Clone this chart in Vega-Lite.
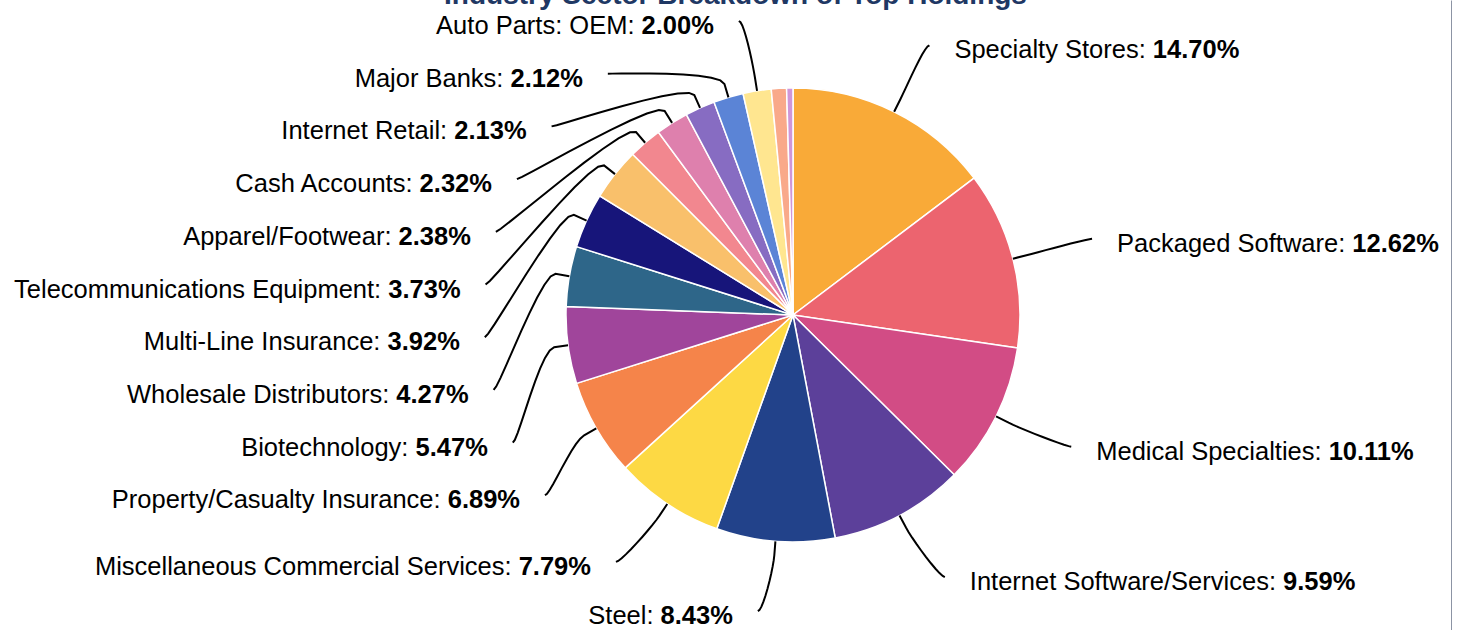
{
  "$schema": "https://vega.github.io/schema/vega-lite/v6.json",
  "width": 1318,
  "height": 630,
  "autosize": "none",
  "padding": {"left": 134, "top": 0, "right": 0, "bottom": 0},
  "data": {"values": [
    {"name": "Specialty Stores", "value": 14.70},
    {"name": "Packaged Software", "value": 12.62},
    {"name": "Medical Specialties", "value": 10.11},
    {"name": "Internet Software/Services", "value": 9.59},
    {"name": "Steel", "value": 8.43},
    {"name": "Miscellaneous Commercial Services", "value": 7.79},
    {"name": "Property/Casualty Insurance", "value": 6.89},
    {"name": "Biotechnology", "value": 5.47},
    {"name": "Wholesale Distributors", "value": 4.27},
    {"name": "Multi-Line Insurance", "value": 3.92},
    {"name": "Telecommunications Equipment", "value": 3.73},
    {"name": "Apparel/Footwear", "value": 2.38},
    {"name": "Cash Accounts", "value": 2.32},
    {"name": "Internet Retail", "value": 2.13},
    {"name": "Major Banks", "value": 2.12},
    {"name": "Auto Parts: OEM", "value": 2.00},
    {"name": "Other", "value": 1.08},
    {"name": "Unclassified", "value": 0.45}
  ]},
  "transform": [
    {"joinaggregate": [{"op": "sum", "field": "value", "as": "total"}]},
    {"window": [{"op": "sum", "field": "value", "as": "cum"}], "sort": [{"field": "value", "order": "descending"}], "frame": [null, 0]},
    {"calculate": "2*PI*(datum.cum - datum.value/2)/datum.total", "as": "ang"},
    {"calculate": "sin(datum.ang)", "as": "ux"},
    {"calculate": "-cos(datum.ang)", "as": "uy"},
    {"calculate": "datum.ang < PI ? 'R' : 'L'", "as": "side"},
    {"calculate": "datum.value >= 1.5 ? 1 : 0", "as": "lab"},
    {"window": [{"op": "row_number", "as": "rk"}], "groupby": ["side", "lab"], "sort": [{"field": "ang", "order": "descending"}]},
    {"calculate": "datum.uy*299 - 2", "as": "ny"},
    {"calculate": "datum.side === 'L' ? max(datum.ny, -294 + (datum.rk-1)*52.7) : datum.ny", "as": "ly"},
    {"calculate": "(sqrt(max(0, 297*297 - datum.ly*datum.ly)) + 12) * (datum.side === 'L' ? -1 : 1)", "as": "lx"},
    {"calculate": "datum.lx + (datum.side === 'L' ? -25 : 25)", "as": "tx"},
    {"calculate": "format(datum.value, '.2f') + '%'", "as": "vs"},
    {"calculate": "((length(datum.vs)-2)*0.556 + 1.167)*25.5", "as": "vw"},
    {"calculate": "datum.name + ':'", "as": "nm"},
    {"calculate": "0.556*length(datum.nm) - 0.334*(length(split(datum.nm,'i'))+length(split(datum.nm,'j'))+length(split(datum.nm,'l'))-3) - 0.278*(length(split(datum.nm,'f'))+length(split(datum.nm,'t'))+length(split(datum.nm,'I'))+length(split(datum.nm,' '))+length(split(datum.nm,':'))+length(split(datum.nm,'/'))+length(split(datum.nm,'.'))+length(split(datum.nm,','))-8) - 0.223*(length(split(datum.nm,'r'))+length(split(datum.nm,'-'))+length(split(datum.nm,'('))+length(split(datum.nm,')'))-4) - 0.056*(length(split(datum.nm,'c'))+length(split(datum.nm,'k'))+length(split(datum.nm,'s'))+length(split(datum.nm,'v'))+length(split(datum.nm,'x'))+length(split(datum.nm,'y'))+length(split(datum.nm,'z'))+length(split(datum.nm,'J'))-8) + 0.055*(length(split(datum.nm,'F'))+length(split(datum.nm,'T'))+length(split(datum.nm,'Z'))-3) + 0.111*(length(split(datum.nm,'A'))+length(split(datum.nm,'B'))+length(split(datum.nm,'E'))+length(split(datum.nm,'K'))+length(split(datum.nm,'P'))+length(split(datum.nm,'S'))+length(split(datum.nm,'V'))+length(split(datum.nm,'X'))+length(split(datum.nm,'Y'))-9) + 0.166*(length(split(datum.nm,'C'))+length(split(datum.nm,'D'))+length(split(datum.nm,'H'))+length(split(datum.nm,'N'))+length(split(datum.nm,'R'))+length(split(datum.nm,'U'))+length(split(datum.nm,'w'))-7) + 0.222*(length(split(datum.nm,'G'))+length(split(datum.nm,'O'))+length(split(datum.nm,'Q'))-3) + 0.277*(length(split(datum.nm,'M'))+length(split(datum.nm,'m'))-2) + 0.388*(length(split(datum.nm,'W'))-1)", "as": "nem"},
    {"calculate": "datum.side === 'L' ? datum.tx - datum.vw - 0.278*25.5 : datum.tx", "as": "nameX"},
    {"calculate": "datum.side === 'L' ? datum.tx - datum.vw : datum.tx + (datum.nem + 0.278)*25.5", "as": "valX"}
  ],
  "layer": [
    {
      "mark": {"type": "arc", "outerRadius": 227, "stroke": "#ffffff", "strokeWidth": 1.5},
      "encoding": {
        "theta": {"field": "value", "type": "quantitative", "stack": true},
        "order": {"field": "value", "type": "quantitative", "sort": "descending"},
        "color": {"field": "name", "type": "nominal", "legend": null, "scale": {
          "domain": ["Specialty Stores", "Packaged Software", "Medical Specialties", "Internet Software/Services", "Steel", "Miscellaneous Commercial Services", "Property/Casualty Insurance", "Biotechnology", "Wholesale Distributors", "Multi-Line Insurance", "Telecommunications Equipment", "Apparel/Footwear", "Cash Accounts", "Internet Retail", "Major Banks", "Auto Parts: OEM", "Other", "Unclassified"],
          "range": ["#F9AA38", "#EC646F", "#D24C85", "#5C409A", "#22428A", "#FDD944", "#F5844A", "#A0459B", "#2E6689", "#17157A", "#F9C06B", "#F2878F", "#DE80AD", "#876CC2", "#5B84D6", "#FFE690", "#F9A98A", "#D096D8"]}}
      }
    },
    {
      "transform": [
        {"filter": "datum.lab === 1"},
        {"fold": ["p00", "p01", "p02", "p03", "p04", "p05", "p06", "p07", "p08", "p09", "p10", "pT"], "as": ["key", "kv"]},
        {"calculate": "datum.key === 'pT' ? 2 : toNumber(substring(datum.key, 1))/10", "as": "t"},
        {"calculate": "datum.t > 1 ? datum.ux*227 : pow(1-datum.t,3)*datum.lx + 3*pow(1-datum.t,2)*datum.t*(datum.lx + (datum.side === 'L' ? 5 : -5)) + 3*(1-datum.t)*pow(datum.t,2)*datum.ux*255 + pow(datum.t,3)*datum.ux*241", "as": "cx"},
        {"calculate": "datum.t > 1 ? datum.uy*227 : pow(1-datum.t,3)*datum.ly + 3*pow(1-datum.t,2)*datum.t*datum.ly + 3*(1-datum.t)*pow(datum.t,2)*datum.uy*255 + pow(datum.t,3)*datum.uy*241", "as": "cy"}
      ],
      "mark": {"type": "line", "color": "#000000", "strokeWidth": 2},
      "encoding": {
        "x": {"field": "cx", "type": "quantitative", "scale": {"domain": [-659, 659], "nice": false, "zero": false}, "axis": {"orient": "top", "domain": false, "ticks": false, "labels": false, "grid": false, "title": "Industry Sector Breakdown of Top Holdings", "titleFontSize": 28, "titleFontWeight": "bold", "titleColor": "#1F3864", "titleFont": "Liberation Sans", "titleX": 601, "titleY": 3, "titleAlign": "center", "titleBaseline": "alphabetic", "titleAngle": 0}},
        "y": {"field": "cy", "type": "quantitative", "scale": {"domain": [-315, 315], "reverse": true, "nice": false, "zero": false}, "axis": {"orient": "right", "labels": false, "ticks": false, "grid": false, "title": null, "domainColor": "#1B2B4B", "domainWidth": 2}},
        "detail": {"field": "name", "type": "nominal"},
        "order": {"field": "t", "type": "quantitative"}
      }
    },
    {
      "transform": [{"filter": "datum.lab === 1 && datum.side === 'L'"}],
      "mark": {"type": "text", "align": "right", "baseline": "middle", "fontSize": 25.5, "dy": 5, "color": "#000000", "font": "Liberation Sans"},
      "encoding": {
        "x": {"field": "nameX", "type": "quantitative", "scale": {"domain": [-659, 659], "nice": false, "zero": false}, "axis": {"orient": "top", "domain": false, "ticks": false, "labels": false, "grid": false, "title": "Industry Sector Breakdown of Top Holdings", "titleFontSize": 28, "titleFontWeight": "bold", "titleColor": "#1F3864", "titleFont": "Liberation Sans", "titleX": 601, "titleY": 3, "titleAlign": "center", "titleBaseline": "alphabetic", "titleAngle": 0}},
        "y": {"field": "ly", "type": "quantitative", "scale": {"domain": [-315, 315], "reverse": true, "nice": false, "zero": false}, "axis": {"orient": "right", "labels": false, "ticks": false, "grid": false, "title": null, "domainColor": "#1B2B4B", "domainWidth": 2}},
        "text": {"field": "nm", "type": "nominal"}
      }
    },
    {
      "transform": [{"filter": "datum.lab === 1 && datum.side === 'R'"}],
      "mark": {"type": "text", "align": "left", "baseline": "middle", "fontSize": 25.5, "dy": 5, "color": "#000000", "font": "Liberation Sans"},
      "encoding": {
        "x": {"field": "nameX", "type": "quantitative", "scale": {"domain": [-659, 659], "nice": false, "zero": false}, "axis": {"orient": "top", "domain": false, "ticks": false, "labels": false, "grid": false, "title": "Industry Sector Breakdown of Top Holdings", "titleFontSize": 28, "titleFontWeight": "bold", "titleColor": "#1F3864", "titleFont": "Liberation Sans", "titleX": 601, "titleY": 3, "titleAlign": "center", "titleBaseline": "alphabetic", "titleAngle": 0}},
        "y": {"field": "ly", "type": "quantitative", "scale": {"domain": [-315, 315], "reverse": true, "nice": false, "zero": false}, "axis": {"orient": "right", "labels": false, "ticks": false, "grid": false, "title": null, "domainColor": "#1B2B4B", "domainWidth": 2}},
        "text": {"field": "nm", "type": "nominal"}
      }
    },
    {
      "transform": [{"filter": "datum.lab === 1"}],
      "mark": {"type": "text", "align": "left", "baseline": "middle", "fontSize": 25.5, "fontWeight": "bold", "dy": 5, "color": "#000000", "font": "Liberation Sans"},
      "encoding": {
        "x": {"field": "valX", "type": "quantitative", "scale": {"domain": [-659, 659], "nice": false, "zero": false}, "axis": {"orient": "top", "domain": false, "ticks": false, "labels": false, "grid": false, "title": "Industry Sector Breakdown of Top Holdings", "titleFontSize": 28, "titleFontWeight": "bold", "titleColor": "#1F3864", "titleFont": "Liberation Sans", "titleX": 601, "titleY": 3, "titleAlign": "center", "titleBaseline": "alphabetic", "titleAngle": 0}},
        "y": {"field": "ly", "type": "quantitative", "scale": {"domain": [-315, 315], "reverse": true, "nice": false, "zero": false}, "axis": {"orient": "right", "labels": false, "ticks": false, "grid": false, "title": null, "domainColor": "#1B2B4B", "domainWidth": 2}},
        "text": {"field": "vs", "type": "nominal"}
      }
    }
  ],
  "config": {"view": {"stroke": null}, "font": "Liberation Sans", "background": "#ffffff"}
}
